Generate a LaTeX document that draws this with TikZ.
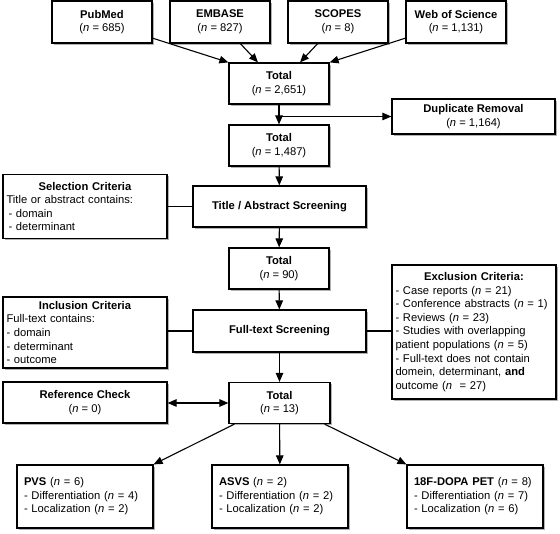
\documentclass[tikz,border=0pt]{standalone}
\usepackage{fontspec}
\setmainfont{Liberation Sans}
\usetikzlibrary{arrows.meta,shadows,calc}
\begin{document}
\begin{tikzpicture}[x=1pt,y=-1pt,
  box/.style={draw, line width=1.2pt, fill=white, rectangle, inner sep=0pt, align=center,
    font=\fontsize{11.2}{13.6}\selectfont,
    drop shadow={shadow xshift=1.6pt, shadow yshift=-1.8pt, fill=black, opacity=0.3}},
  lbox/.style={box, align=left, inner xsep=3.5pt},
  rbox/.style={box, align=left, inner xsep=7pt, minimum width=136pt, minimum height=63pt, text width=122pt},
  arr/.style={line width=1.1pt, -{Triangle[length=9pt,width=7.5pt]}},
  link/.style={line width=1.1pt},
  both/.style={line width=1.1pt, {Triangle[length=9pt,width=7.5pt]}-{Triangle[length=9pt,width=7.5pt]}},
]
\useasboundingbox (0,0) rectangle (560,534);

% sources
\node[box, minimum width=100pt, minimum height=42pt] (pub) at (102,22) {\textbf{PubMed}\\(\textit{n} = 685)};
\node[box, minimum width=100pt, minimum height=42pt] (emb) at (220,22) {\textbf{EMBASE}\\(\textit{n} = 827)};
\node[box, minimum width=100pt, minimum height=42pt] (sco) at (338,22) {\textbf{SCOPES}\\(\textit{n} = 8)};
\node[box, minimum width=100pt, minimum height=42pt] (wos) at (456,22) {\textbf{Web of Science}\\(\textit{n} = 1,131)};

% totals and screening
\node[box, minimum width=100pt, minimum height=41pt] (t1) at (279,83.5) {\textbf{Total}\\(\textit{n} = 2,651)};
\node[box, minimum width=163pt, minimum height=35pt] (dup) at (473.5,116.5) {\textbf{Duplicate Removal}\\(\textit{n} = 1,164)};
\node[box, minimum width=100pt, minimum height=41pt] (t2) at (279,145.5) {\textbf{Total}\\(\textit{n} = 1,487)};
\node[box, minimum width=173pt, minimum height=41pt] (tas) at (279.5,206.5) {\textbf{Title / Abstract Screening}};
\node[lbox, minimum width=164pt, minimum height=64pt, text width=157pt] (sel) at (85,206.5)
  {\hfill\textbf{Selection Criteria}\hfill\null\\
   Title or abstract contains:\\
   \hspace*{2pt}- domain\\
   \hspace*{2pt}- determinant};
\node[box, minimum width=100pt, minimum height=41pt] (t3) at (279,268.5) {\textbf{Total}\\(\textit{n} = 90)};
\node[box, minimum width=173pt, minimum height=42pt] (fts) at (279.5,331) {\textbf{Full-text Screening}};
\node[lbox, minimum width=164pt, minimum height=71pt, text width=157pt] (inc) at (85,332.5)
  {\hfill\textbf{Inclusion Criteria}\hfill\null\\
   Full-text contains:\\
   - domain\\
   - determinant\\
   - outcome};
\node[lbox, minimum width=164pt, minimum height=134pt, text width=157pt] (exc) at (474,332)
  {\hfill\textbf{Exclusion Criteria:}\hfill\null\\
   \mbox{- Case reports (\textit{n} = 21)}\\
   \mbox{- Conference abstracts (\textit{n} = 1)}\\
   \mbox{- Reviews (\textit{n} = 23)}\\
   \mbox{- Studies with overlapping}\\
   \mbox{patient populations (\textit{n} = 5)}\\
   \mbox{- Full-text does not contain}\\
   \mbox{domein, determinant, \textbf{and}}\\
   \mbox{outcome (\textit{n}~ = 27)}};
\node[box, minimum width=101pt, minimum height=41pt] (t4) at (279.5,403) {\textbf{Total}\\(\textit{n} = 13)};
\node[box, minimum width=164pt, minimum height=41pt] (ref) at (85,402.5) {\textbf{Reference Check}\\(\textit{n} = 0)};

% results
\node[rbox] (pvs) at (85,496.5) {\mbox{\textbf{PVS} (\textit{n} = 6)}\\\mbox{- Differentiation (\textit{n} = 4)}\\\mbox{- Localization (\textit{n} = 2)}};
\node[rbox] (asv) at (280,496.5) {\mbox{\textbf{ASVS} (\textit{n} = 2)}\\\mbox{- Differentiation (\textit{n} = 2)}\\\mbox{- Localization (\textit{n} = 2)}};
\node[rbox] (dop) at (475,496.5) {\mbox{\textbf{18F-DOPA PET} (\textit{n} = 8)}\\\mbox{- Differentiation (\textit{n} = 7)}\\\mbox{- Localization (\textit{n} = 6)}};

% connectors
\draw[arr] (pub) -- (t1.north west);
\draw[arr] (emb) -- ([xshift=-21pt]t1.north);
\draw[arr] (sco) -- ([xshift=21pt]t1.north);
\draw[arr] (wos) -- (t1.north east);
\draw[arr] (t1) -- (t2);
\draw[arr] (t1.south |- dup.west) -- (dup.west);
\draw[arr] (t2) -- (tas);
\draw[link] (sel.east) -- (sel.east -| tas.west);
\draw[arr] (tas) -- (t3);
\draw[arr] (t3) -- (fts);
\draw[link] (fts.west) -- (fts.west -| inc.east);
\draw[link] (fts.east) -- (fts.east -| exc.west);
\draw[arr] (fts) -- (t4);
\draw[both] (ref.east |- t4.west) -- (t4.west);
\draw[arr] ([xshift=6pt]t4.south west) -- (pvs.north east);
\draw[arr] (t4) -- (asv);
\draw[arr] ([xshift=-6pt]t4.south east) -- (dop.north west);
\end{tikzpicture}
\end{document}
